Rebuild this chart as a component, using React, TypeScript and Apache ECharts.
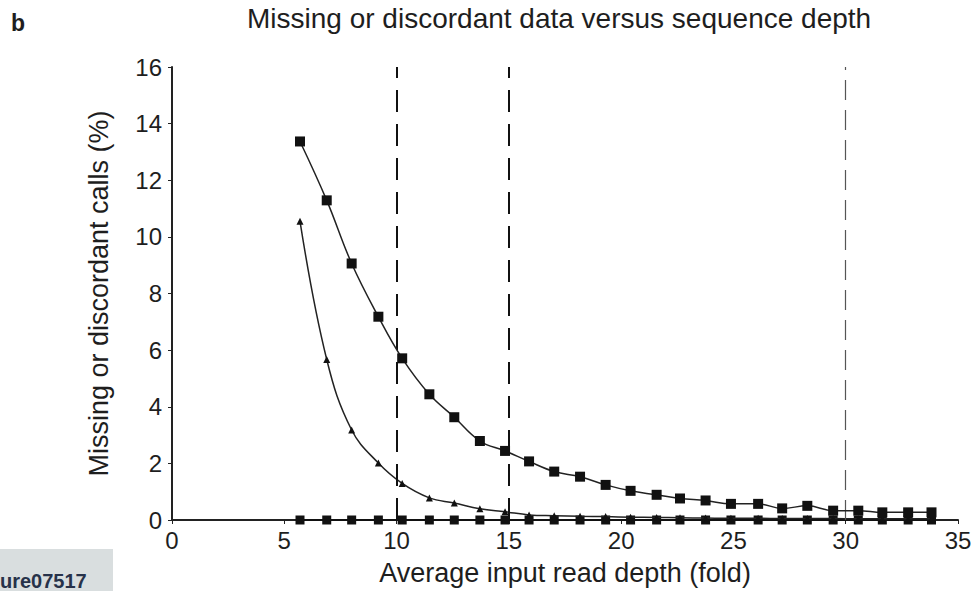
import React, { useEffect, useRef } from "react";
import * as echarts from "echarts";

const depthX = [5.7, 6.89, 8.0, 9.19, 10.25, 11.46, 12.57, 13.71, 14.83, 15.9, 17.02, 18.17, 19.31, 20.42, 21.58, 22.62, 23.76, 24.89, 26.1, 27.17, 28.29, 29.44, 30.56, 31.63, 32.78, 33.82];
const squareVals = [13.37, 11.29, 9.06, 7.18, 5.71, 4.44, 3.63, 2.79, 2.44, 2.07, 1.71, 1.53, 1.24, 1.03, 0.89, 0.76, 0.69, 0.57, 0.57, 0.41, 0.5, 0.33, 0.33, 0.27, 0.27, 0.27];
const triangleVals = [10.55, 5.67, 3.18, 2.01, 1.29, 0.78, 0.6, 0.4, 0.29, 0.18, 0.15, 0.13, 0.12, 0.1, 0.09, 0.08, 0.07, 0.06, 0.06, 0.05, 0.05, 0.05, 0.04, 0.04, 0.04, 0.04];
const zeroVals = [0, 0, 0, 0, 0, 0, 0, 0, 0, 0, 0, 0, 0, 0, 0, 0, 0, 0, 0, 0, 0, 0, 0, 0, 0, 0];
const dashedDepths = [10, 15, 30];

const TITLE = "Missing or discordant data versus sequence depth";
const X_NAME = "Average input read depth (fold)";
const Y_NAME = "Missing or discordant calls (%)";
const PANEL = "b";
const STAMP = "ure07517";
const FONT = "Liberation Sans, Arial, sans-serif";
const INK = "#1e1e1e";

export default function App() {
  const ref = useRef<HTMLDivElement>(null);
  useEffect(() => {
    if (!ref.current) return;
    const chart = echarts.init(ref.current, undefined, { renderer: "svg" });
    const pts = (vals: number[]) => depthX.map((x, i) => [x, vals[i]]);
    chart.setOption({
      animation: false,
      backgroundColor: "#ffffff",
      textStyle: { fontFamily: FONT, color: INK },
      grid: { left: 172, right: 21, top: 67, bottom: 70 },
      graphic: [
        { type: "text", left: 11, top: 11, style: { text: PANEL, font: `bold 23px ${FONT}`, fill: INK } },
        { type: "text", left: 247, top: 4, style: { text: TITLE, font: `28px ${FONT}`, fill: INK } },
        { type: "rect", shape: { x: 0, y: 549, width: 113, height: 42 }, style: { fill: "#d9dedf" } },
        { type: "text", x: 0, y: 591, style: { text: STAMP, font: `bold 20px ${FONT}`, fill: "#27324a", verticalAlign: "bottom" } },
      ],
      xAxis: {
        type: "value",
        min: 0,
        max: 35,
        interval: 5,
        name: X_NAME,
        nameLocation: "middle",
        nameGap: 39,
        nameTextStyle: { fontSize: 27, color: INK, fontFamily: FONT },
        axisLine: { lineStyle: { color: "#222", width: 2 } },
        axisTick: { show: true, length: 4, lineStyle: { color: "#222" } },
        axisLabel: { fontSize: 24, color: INK, margin: 8, fontFamily: FONT },
        splitLine: { show: false },
      },
      yAxis: {
        type: "value",
        min: 0,
        max: 16,
        interval: 2,
        name: Y_NAME,
        nameLocation: "middle",
        nameGap: 60,
        nameTextStyle: { fontSize: 27, color: INK, fontFamily: FONT },
        axisLine: { show: true, lineStyle: { color: "#222", width: 2 } },
        axisTick: { show: true, length: 4, lineStyle: { color: "#222" } },
        axisLabel: { fontSize: 24, color: INK, margin: 10, fontFamily: FONT },
        splitLine: { show: false },
      },
      series: [
        {
          name: "zero",
          type: "line",
          data: pts(zeroVals),
          symbol: "rect",
          symbolSize: 9,
          itemStyle: { color: "#111" },
          lineStyle: { color: "#111", width: 2 },
          z: 3,
          markLine: {
            silent: true,
            symbol: "none",
            label: { show: false },
            data: dashedDepths.map((d) =>
              d === 30
                ? { xAxis: d, lineStyle: { color: "#555", width: 1.2, type: [20, 10] } }
                : { xAxis: d, lineStyle: { color: "#111", width: 2, type: [22, 12] } }
            ),
          },
        },
        {
          name: "triangle",
          type: "line",
          data: pts(triangleVals),
          smooth: 0.4,
          symbol: "triangle",
          symbolSize: 7,
          itemStyle: { color: "#111" },
          lineStyle: { color: "#222", width: 1.5 },
          z: 4,
        },
        {
          name: "square",
          type: "line",
          data: pts(squareVals),
          smooth: 0.4,
          symbol: "rect",
          symbolSize: 10,
          itemStyle: { color: "#111" },
          lineStyle: { color: "#222", width: 1.5 },
          z: 5,
        },
      ],
    });
    return () => chart.dispose();
  }, []);
  return <div ref={ref} style={{ position: "fixed", left: 0, top: 0, width: 979, height: 591 }} />;
}
